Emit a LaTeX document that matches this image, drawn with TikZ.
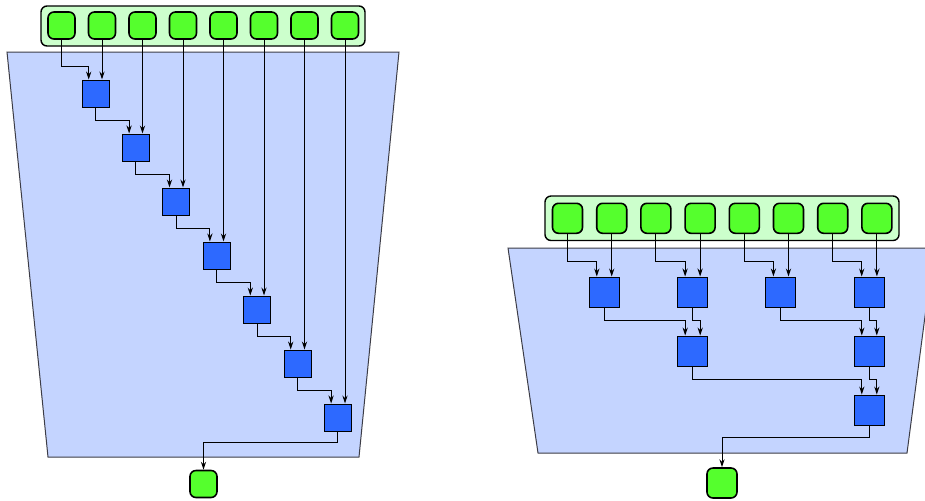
\documentclass[tikz,border=0pt]{standalone}
\usetikzlibrary{arrows.meta}
\definecolor{barfill}{RGB}{204,255,204}
\definecolor{portgreen}{RGB}{85,255,45}
\definecolor{blkblue}{RGB}{45,105,255}
\definecolor{trapfill}{RGB}{196,212,255}
\definecolor{edgegray}{RGB}{60,60,70}

\tikzset{
  port/.style={draw, fill=portgreen, line width=0.8pt, rounded corners=3pt, minimum size=#1, inner sep=0pt},
  port/.default=13.5pt,
  blk/.style={draw, fill=blkblue, line width=0.5pt, minimum size=#1, inner sep=0pt},
  blk/.default=13.5pt,
  inbar/.style={draw, fill=barfill, line width=0.7pt, rounded corners=3pt},
  trap/.style={draw=edgegray, fill=trapfill, line width=0.5pt},
  link/.style={line width=0.5pt, -{Stealth[length=4pt,width=2.6pt,inset=1.3pt]}}
}

\begin{document}
\begin{tikzpicture}[x=0.5pt, y=-0.5pt]

% Bounds
\clip (0,0) rectangle (925,500);

% ---------- Left: linear chain ----------

% Trapezoid
\draw[trap] (7,52) -- (399,52) -- (359,457) -- (48,457) -- cycle;

% Input bar
\draw[inbar] (41,6) rectangle (365,46);
\foreach \i in {1,...,8}{
\node[port] (a\i) at ({61.5+40.5*(\i-1)},25.5) {};
}

% Blocks
\foreach \i in {1,...,7}{
\node[blk] (p\i) at ({95.5+40.4*(\i-1)},{93.5+54*(\i-1)}) {};
}

% Output
\node[port] (outl) at (203.5,484) {};

% Links
\draw[link] (a1.south) |- ([xshift=-3.4pt,yshift=6.75pt]p1.north) -- ([xshift=-3.4pt]p1.north);
\foreach \i/\j in {1/2,2/3,3/4,4/5,5/6,6/7}{
\draw[link] (p\i.south) |- ([xshift=-3.4pt,yshift=6.75pt]p\j.north) -- ([xshift=-3.4pt]p\j.north);
}
\foreach \i/\j in {1/2,2/3,3/4,4/5,5/6,6/7,7/8}{
\draw[link] (a\j.south) -- (a\j.south |- p\i.north);
}
\draw[link] (p7.south) |- ([yshift=13.5pt]outl.north) -- (outl.north);

% ---------- Right: tree ----------

% Trapezoid
\draw[trap] (508,248) -- (934,248) -- (907,453) -- (538,453) -- cycle;

% Input bar
\draw[inbar] (545,196) rectangle (899,240.5);
\foreach \i in {1,...,8}{
\node[port=15pt] (b\i) at ({567.5+44.2*(\i-1)},218.3) {};
}

% Blocks
\foreach \i in {1,...,4}{
\node[blk=15pt] (q\i) at ({604.3+88.3*(\i-1)},292) {};
}
\node[blk=15pt] (r1) at (692.7,351) {};
\node[blk=15pt] (r2) at (869.3,351) {};
\node[blk=15pt] (s) at (869.3,410) {};

% Output
\node[port=15pt] (outr) at (722,483) {};

% Links
\foreach \i/\k/\m in {1/1/2,2/3/4,3/5/6,4/7/8}{
\draw[link] (b\k.south) |- ([xshift=-3.75pt,yshift=7.5pt]q\i.north) -- ([xshift=-3.75pt]q\i.north);
\draw[link] (b\m.south) -- (b\m.south |- q\i.north);
}
\foreach \k/\m/\r in {1/2/r1,3/4/r2}{
\draw[link] (q\k.south) |- ([xshift=-3.75pt,yshift=7.5pt]\r.north) -- ([xshift=-3.75pt]\r.north);
\draw[link] (q\m.south) |- ([xshift=3.75pt,yshift=7.5pt]\r.north) -- ([xshift=3.75pt]\r.north);
}
\draw[link] (r1.south) |- ([xshift=-3.75pt,yshift=7.5pt]s.north) -- ([xshift=-3.75pt]s.north);
\draw[link] (r2.south) |- ([xshift=3.75pt,yshift=7.5pt]s.north) -- ([xshift=3.75pt]s.north);
\draw[link] (s.south) |- ([yshift=15pt]outr.north) -- (outr.north);

\end{tikzpicture}
\end{document}
